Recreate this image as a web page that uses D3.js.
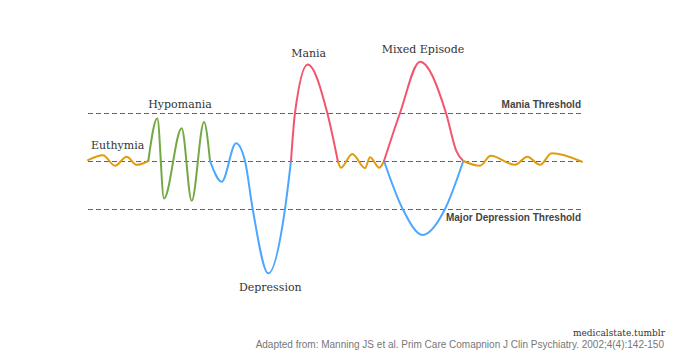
<!DOCTYPE html>
<html>
<head>
<meta charset="utf-8">
<script src="https://cdn.jsdelivr.net/npm/d3@7"></script>
<style>
  html, body { margin: 0; padding: 0; background: #fff; }
  svg { display: block; }
</style>
</head>
<body>
<div id="chart"></div>
<script>
// mood over time, t = 0..100, mood 0 = baseline, +1 = mania threshold, -1 = major depression threshold
const euthymiaStart = [
  { t: 0, v: 0.02 }, { t: 3.04, v: 0.12 }, { t: 5.47, v: -0.10 },
  { t: 7.83, v: 0.09 }, { t: 9.86, v: -0.08 }, { t: 12.2, v: 0 }
];
const hypomania = [
  { t: 12.2, v: 0 }, { t: 14.03, v: 0.89 }, { t: 15.38, v: -0.78 },
  { t: 18.96, v: 0.68 }, { t: 20.99, v: -0.83 }, { t: 23.48, v: 0.81 }, { t: 24.7, v: 0 }
];
const depression = [
  { t: 24.7, v: 0 }, { t: 27.07, v: -0.43 }, { t: 29.96, v: 0.37 }, { t: 31.78, v: 0 },
  { t: 33.34, v: -1 }, { t: 36.5, v: -2.34 }, { t: 39.88, v: -1 }, { t: 41.09, v: 0 }
];
const mania = [
  { t: 41.09, v: 0 }, { t: 41.9, v: 1 }, { t: 44.47, v: 2.01 }, { t: 48.44, v: 1 }, { t: 50.61, v: -0.02 }
];
const euthymiaMid = [
  { t: 50.61, v: -0.02 }, { t: 51.21, v: -0.14 }, { t: 53.5, v: 0.146 }, { t: 56.07, v: -0.15 },
  { t: 57.09, v: 0.08 }, { t: 58.97, v: -0.14 }, { t: 59.92, v: 0 }
];
const mixedHigh = [
  { t: 59.92, v: 0 }, { t: 63.16, v: 1 }, { t: 67.21, v: 2.07 }, { t: 72.47, v: 1 },
  { t: 74.6, v: 0.2 }, { t: 75.97, v: 0 }
];
const mixedLow = [
  { t: 59.92, v: 0 }, { t: 63.7, v: -1 }, { t: 67.75, v: -1.54 }, { t: 72.27, v: -1 }, { t: 75.97, v: 0 }
];
const euthymiaEnd = [
  { t: 75.97, v: 0 }, { t: 79.35, v: -0.10 }, { t: 81.52, v: 0.11 }, { t: 86.44, v: -0.08 },
  { t: 88.93, v: 0.09 }, { t: 91.5, v: -0.08 }, { t: 93.87, v: 0.16 }, { t: 100, v: -0.015 }
];

const thresholds = [
  { v: 1, label: "Mania Threshold" },
  { v: 0, label: "" },
  { v: -1, label: "Major Depression Threshold" }
];

const orange = "#e09b0e";
const green = "#74a844";
const blue = "#4da6ff";
const red = "#f3556f";

const segments = [
  { data: euthymiaStart, color: orange },
  { data: hypomania, color: green },
  { data: depression, color: blue },
  { data: mania, color: red },
  { data: euthymiaMid, color: orange },
  { data: mixedLow, color: blue },
  { data: mixedHigh, color: red },
  { data: euthymiaEnd, color: orange }
];

const width = 674;
const height = 360;

const svg = d3.select("#chart")
  .append("svg")
  .attr("width", width)
  .attr("height", height);

const x = d3.scaleLinear().domain([0, 100]).range([88, 582]);
const y = d3.scaleLinear().domain([-1, 1]).range([209, 113]);

// dashed reference lines
svg.selectAll(".ref")
  .data(thresholds)
  .enter()
  .append("line")
  .attr("class", "ref")
  .attr("x1", x(0))
  .attr("x2", x(100))
  .attr("y1", d => y(d.v) + 0.5)
  .attr("y2", d => y(d.v) + 0.5)
  .attr("stroke", "#456b8e")
  .attr("stroke-width", 1)
  .attr("stroke-dasharray", "5,3");

svg.selectAll(".ref-label")
  .data(thresholds.filter(d => d.label))
  .enter()
  .append("text")
  .attr("class", "ref-label")
  .attr("x", x(100) - 1)
  .attr("y", d => d.v > 0 ? y(d.v) - 5 : y(d.v) + 12)
  .attr("text-anchor", "end")
  .attr("font-family", "Liberation Sans, Arial, sans-serif")
  .attr("font-weight", "bold")
  .attr("font-size", "10px")
  .attr("fill", "#444")
  .text(d => d.label);

const line = d3.line()
  .x(d => x(d.t))
  .y(d => y(d.v))
  .curve(d3.curveMonotoneX);

svg.selectAll(".mood")
  .data(segments)
  .enter()
  .append("path")
  .attr("class", "mood")
  .attr("fill", "none")
  .attr("stroke", d => d.color)
  .attr("stroke-width", 2)
  .attr("stroke-linejoin", "round")
  .attr("stroke-linecap", "round")
  .attr("d", d => line(d.data));

// episode labels
const serif = "DejaVu Serif, serif";
const peak = arr => arr.reduce((a, b) => (b.v > a.v ? b : a));
const trough = arr => arr.reduce((a, b) => (b.v < a.v ? b : a));

const labels = [
  { text: "Euthymia", x: x(euthymiaStart[0].t) + 3, y: y(0) - 12, anchor: "start" },
  { text: "Hypomania", x: x(hypomania[0].t), y: y(1) - 5, anchor: "start" },
  { text: "Mania", x: x(peak(mania).t) + 1, y: y(peak(mania).v) - 8, anchor: "middle" },
  { text: "Mixed Episode", x: x(peak(mixedHigh).t) + 3, y: y(peak(mixedHigh).v) - 9, anchor: "middle" },
  { text: "Depression", x: x(trough(depression).t) + 2, y: y(trough(depression).v) + 18, anchor: "middle" }
];

svg.selectAll(".episode")
  .data(labels)
  .enter()
  .append("text")
  .attr("class", "episode")
  .attr("x", d => d.x)
  .attr("y", d => d.y)
  .attr("text-anchor", d => d.anchor)
  .attr("font-family", serif)
  .attr("font-size", "11px")
  .attr("fill", "#333")
  .text(d => d.text);

// credits
svg.append("text")
  .attr("x", 665)
  .attr("y", 336)
  .attr("text-anchor", "end")
  .attr("font-family", serif)
  .attr("font-size", "9px")
  .attr("fill", "#333")
  .text("medicalstate.tumblr");

svg.append("text")
  .attr("x", 664)
  .attr("y", 348)
  .attr("text-anchor", "end")
  .attr("font-family", "Liberation Sans, Arial, sans-serif")
  .attr("font-size", "10px")
  .attr("fill", "#777")
  .text("Adapted from: Manning JS et al. Prim Care Comapnion J Clin Psychiatry. 2002;4(4):142-150");
</script>
</body>
</html>
